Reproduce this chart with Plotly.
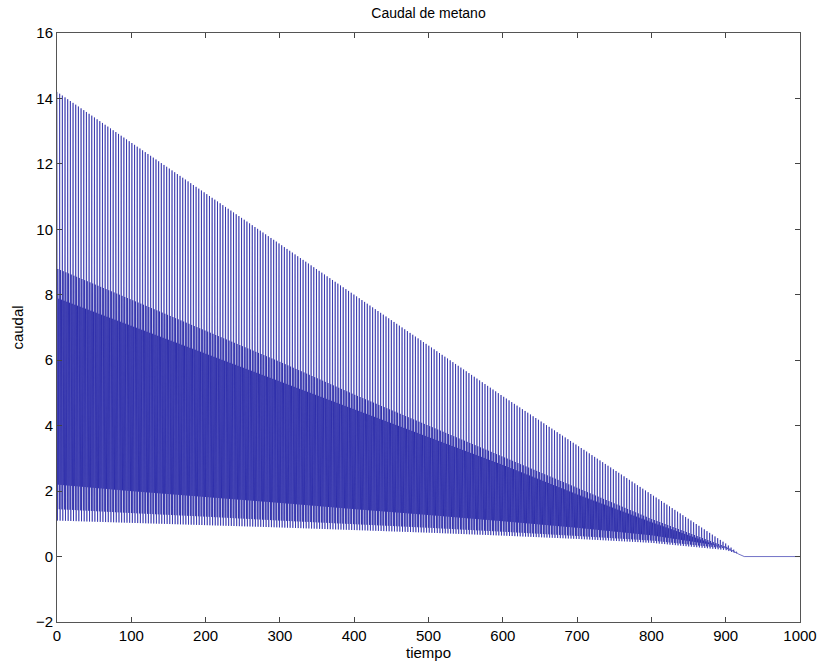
import numpy as np
import plotly.graph_objects as go

# Envelope knots (time)
knot_t = [0, 100, 200, 300, 400, 500, 600, 700, 800, 900, 920]
# Peak / trough levels within each oscillation cycle
env_top  = [14.2, 12.65, 11.1, 9.55, 8.0, 6.45, 4.9, 3.4, 1.9, 0.4, 0.05]
env_mid1 = [8.8, 7.85, 6.9, 5.95, 4.95, 4.0, 3.05, 2.1, 1.15, 0.3, 0.05]
env_mid2 = [7.9, 7.05, 6.2, 5.35, 4.5, 3.65, 2.8, 1.9, 1.05, 0.25, 0.05]
env_low1 = [1.1, 1.03, 0.96, 0.89, 0.81, 0.73, 0.64, 0.54, 0.42, 0.2, 0.05]
env_low2 = [2.2, 2.0, 1.82, 1.64, 1.45, 1.27, 1.08, 0.88, 0.65, 0.3, 0.05]
env_low3 = [1.45, 1.33, 1.22, 1.1, 0.99, 0.88, 0.76, 0.63, 0.49, 0.25, 0.05]
cycle_period = 3.6
tail_t = [925, 1000]
tail_y = [0.0, 0.0]

x_ticks = [0, 100, 200, 300, 400, 500, 600, 700, 800, 900, 1000]
y_ticks = [-2, 0, 2, 4, 6, 8, 10, 12, 14, 16]

levels = [env_top, env_low1, env_mid1, env_low2, env_mid2, env_low3]
xs, ys = [], []
n_cycles = int(920 / cycle_period)
for i in range(n_cycles):
    t0 = i * cycle_period
    for k, env in enumerate(levels):
        t = t0 + k * cycle_period / len(levels)
        xs.append(t)
        ys.append(float(np.interp(t, knot_t, env)))
xs += tail_t
ys += tail_y

fig = go.Figure()
fig.add_trace(go.Scatter(x=xs, y=ys, mode="lines",
                         line=dict(color="#1212a0", width=0.6),
                         hoverinfo="skip", showlegend=False))

font = "Liberation Sans, Arial, sans-serif"
fig.update_layout(
    width=821, height=668,
    margin=dict(l=57, r=21, t=33, b=46, autoexpand=False),
    paper_bgcolor="white", plot_bgcolor="white",
    font=dict(family=font, size=14, color="black"),
    title=dict(text="Caudal de metano", x=(57 + 800) / 2 / 821, xanchor="center",
               y=1 - 13 / 668, yanchor="middle", font=dict(size=14)),
    showlegend=False,
)
fig.update_xaxes(range=[0, 1000], tickvals=x_ticks, ticks="inside", ticklen=5,
                 showline=True, linecolor="#555", linewidth=1, mirror="ticks",
                 showgrid=False, zeroline=False, tickfont=dict(size=15),
                 ticklabeloverflow="allow", automargin=False,
                 title=dict(text="tiempo", font=dict(size=15), standoff=2))
fig.update_yaxes(range=[-2, 16], tickvals=y_ticks, ticks="inside", ticklen=5,
                 showline=True, linecolor="#555", linewidth=1, mirror="ticks",
                 showgrid=False, zeroline=False, tickfont=dict(size=15),
                 ticklabeloverflow="allow", automargin=False,
                 title=dict(text="caudal", font=dict(size=15), standoff=8))
fig.write_html("out.html")
